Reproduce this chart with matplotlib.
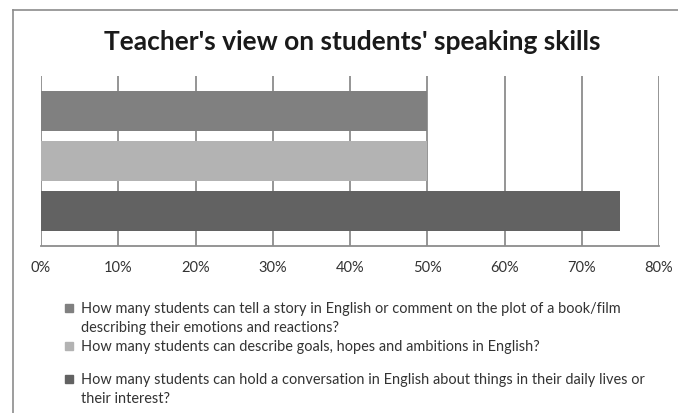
import matplotlib
matplotlib.use("Agg")
import matplotlib.pyplot as plt
from matplotlib.lines import Line2D
from matplotlib.patches import Rectangle
from matplotlib.ticker import FuncFormatter, MultipleLocator

categories = [
    "How many students can tell a story in English or comment on the plot of a book/film\ndescribing their emotions and reactions?",
    "How many students can describe goals, hopes and ambitions in English?",
    "How many students can hold a conversation in English about things in their daily lives or\ntheir interest?",
]
values = [0.50, 0.50, 0.75]
colors = ["#808080", "#b3b3b3", "#626262"]
title = "Teacher's view on students' speaking skills"

FONT = ["Lato", "DejaVu Sans"]
plt.rcParams['font.family'] = FONT

W, H = 678, 413
fig = plt.figure(figsize=(W / 100, H / 100), dpi=100)
ax = fig.add_axes([41 / W, 1 - 246 / H, (659 - 41) / W, (246 - 76) / H])

ypos = list(range(len(values)))
ax.barh(ypos, values, height=0.8, color=colors, zorder=3)
ax.set_ylim(2.7, -0.7)
ax.set_xlim(0, 0.8)
ax.xaxis.set_major_locator(MultipleLocator(0.1))
ax.xaxis.set_major_formatter(FuncFormatter(lambda v, p: f"{round(v * 100)}%"))
ax.set_yticks([])
ax.grid(axis="x", color="#8c8c8c", linewidth=1.3, zorder=0)
for s in ["top", "right", "left"]:
    ax.spines[s].set_visible(False)
ax.spines["bottom"].set_color("#8c8c8c")
ax.spines["bottom"].set_linewidth(1.3)
ax.tick_params(axis="x", length=0, pad=11, labelsize=10.5, labelcolor="#333333")

renderer = fig.canvas.get_renderer()


def fit(t, target_w):
    bb = t.get_window_extent(renderer)
    t.set_fontsize(t.get_fontsize() * target_w / bb.width)


tt = fig.text(352 / W, 1 - 50 / H, title, ha="center", va="baseline",
              fontsize=18, fontweight="bold", color="#1a1a1a")
fit(tt, 499)

# outer frame
fig.add_artist(Line2D([13 / W, 13 / W], [0, 1 - 10 / H], transform=fig.transFigure, color="#8c8c8c", lw=1.2))
fig.add_artist(Line2D([13 / W, 1], [1 - 10 / H, 1 - 10 / H], transform=fig.transFigure, color="#8c8c8c", lw=1.2))

# legend
probe = fig.text(0, 0, categories[0].split("\n")[0], fontsize=10)
fit(probe, 539)
lfs = probe.get_fontsize()
probe.remove()

legend_base = [313, 351, 384]
line_step = 19
for lab, col, yb in zip(categories, colors, legend_base):
    fig.add_artist(Rectangle((65 / W, 1 - (yb - 1.5) / H), 8 / W, 8 / H,
                             transform=fig.transFigure, color=col))
    for i, line in enumerate(lab.split("\n")):
        fig.text(81 / W, 1 - (yb + i * line_step) / H, line, ha="left", va="baseline",
                 fontsize=lfs, color="#333333")

fig.savefig("out.png", dpi=100)
